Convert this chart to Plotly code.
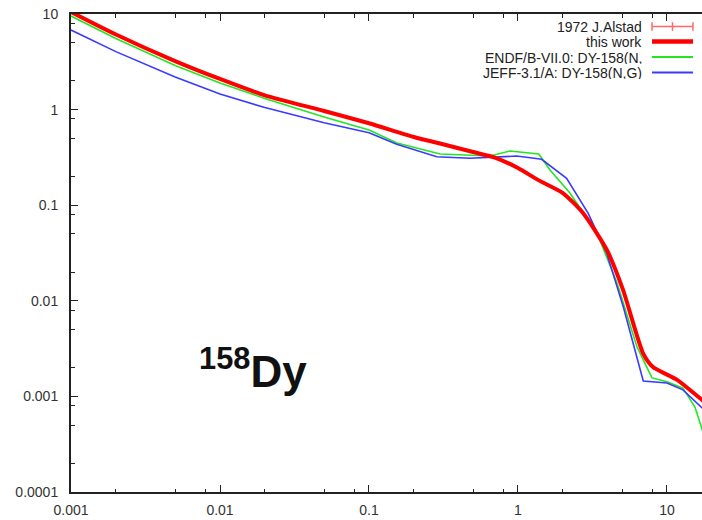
import plotly.graph_objects as go

# Neutron energy grid (MeV) and cross sections (b) for each evaluation
this_work_e = [0.001, 0.002, 0.005, 0.01, 0.02, 0.05, 0.1, 0.2, 0.3, 0.5, 0.7,
               1.0, 1.36, 2.0, 2.73, 3.95, 5.07, 6.9, 8.05, 11.7, 17.2, 20.0]
this_work_xs = [10.5, 6.1, 3.22, 2.09, 1.41, 0.967, 0.72, 0.517, 0.442, 0.36, 0.315,
                0.245, 0.184, 0.134, 0.0829, 0.034, 0.013, 0.00284, 0.00203,
                0.00149, 0.00092, 0.00078]

endf_e = [0.001, 0.002, 0.005, 0.01, 0.02, 0.05, 0.1, 0.154, 0.30, 0.649, 0.884,
          1.204, 1.38, 1.64, 2.23, 3.39, 4.62, 6.29, 7.93, 10.0, 12.8, 15.4,
          17.2, 19.0]
endf_xs = [9.53, 5.54, 2.90, 1.897, 1.306, 0.837, 0.612, 0.447, 0.343, 0.327,
           0.369, 0.351, 0.343, 0.2335, 0.134, 0.0512, 0.01536, 0.00329,
           0.00156, 0.00142, 0.00122, 0.000775, 0.000446, 0.00028]

jeff_e = [0.001, 0.002, 0.005, 0.01, 0.02, 0.05, 0.1, 0.1535, 0.285, 0.476, 0.98,
          1.442, 2.12, 2.96, 3.94, 5.09, 6.93, 10.0, 12.8, 17.2, 20.0]
jeff_xs = [6.8, 4.04, 2.19, 1.455, 1.05, 0.729, 0.573, 0.4335, 0.3216, 0.3095,
           0.327, 0.302, 0.191, 0.0823, 0.0314, 0.00868, 0.00145, 0.00138,
           0.00117, 0.000757, 0.00066]

series_names = ["1972 J.Alstad", "this work",
                "ENDF/B-VII.0: DY-158(N,", "JEFF-3.1/A: DY-158(N,G)"]

x_ticks = [0.001, 0.01, 0.1, 1, 10]
x_tick_text = ["0.001", "0.01", "0.1", "1", "10"]
x_minor = [0.002, 0.005, 0.008, 0.02, 0.05, 0.08, 0.2, 0.5, 0.8,
           2, 5, 8, 20]
y_ticks = [10, 1, 0.1, 0.01, 0.001, 0.0001]
y_tick_text = ["10", "1", "0.1", "0.01", "0.001", "0.0001"]
y_minor = [8, 5, 2, 0.8, 0.5, 0.2, 0.08, 0.05, 0.02,
           0.008, 0.005, 0.002, 0.0008, 0.0005, 0.0002]

RED = "#ff0000"
GREEN = "#22e622"
BLUE = "#3a3aff"
PINK = "#ff6a6a"
FONT = "Liberation Sans, Arial, sans-serif"

fig = go.Figure()
fig.add_trace(go.Scatter(x=endf_e, y=endf_xs, mode="lines",
                         line=dict(color=GREEN, width=1.6), name=series_names[2]))
fig.add_trace(go.Scatter(x=jeff_e, y=jeff_xs, mode="lines",
                         line=dict(color=BLUE, width=1.6), name=series_names[3]))
fig.add_trace(go.Scatter(x=this_work_e, y=this_work_xs, mode="lines",
                         line=dict(color=RED, width=4, shape="spline", smoothing=0.6),
                         name=series_names[1]))

axis_common = dict(
    type="log", showgrid=False, zeroline=False,
    showline=True, linecolor="#222", linewidth=2,
    ticks="inside", ticklen=7, tickwidth=1.3, tickcolor="#222",
    tickfont=dict(family=FONT, size=14, color="#333"),
)

fig.update_xaxes(**axis_common, range=[-3, 1.235], mirror="ticks",
                 tickmode="array", tickvals=x_ticks, ticktext=x_tick_text,
                 ticklabelstandoff=4,
                 minor=dict(tickmode="array", tickvals=x_minor, ticks="inside",
                            ticklen=3.5, tickwidth=1.2, tickcolor="#222"))
fig.update_yaxes(**axis_common, range=[-4, 1], mirror=False,
                 tickmode="array", tickvals=y_ticks, ticktext=y_tick_text,
                 ticklabelstandoff=8,
                 minor=dict(tickmode="array", tickvals=y_minor, ticks="inside",
                            ticklen=3.5, tickwidth=1.2, tickcolor="#222"))

# Legend drawn as right-aligned labels with line samples to their right
legend_rows_y = [0.9738, 0.9425, 0.9100, 0.8776]
sample_x0, sample_x1 = 0.9208, 0.9857
annotations = []
shapes = []
for name, yy in zip(series_names, legend_rows_y):
    annotations.append(dict(x=0.9065, y=yy, xref="paper", yref="paper",
                            xanchor="right", yanchor="middle", showarrow=False,
                            height=13, borderpad=0, valign="middle",
                            text=name, font=dict(family=FONT, size=14, color="#222")))

# 1972 J.Alstad sample: line with error-bar caps
shapes.append(dict(type="line", xref="paper", yref="paper",
                   x0=sample_x0, x1=sample_x1, y0=legend_rows_y[0], y1=legend_rows_y[0],
                   line=dict(color=PINK, width=1.5)))
for cx in [sample_x0, (sample_x0 + sample_x1) / 2, sample_x1]:
    shapes.append(dict(type="line", xref="paper", yref="paper",
                       x0=cx, x1=cx, y0=legend_rows_y[0] - 0.009, y1=legend_rows_y[0] + 0.009,
                       line=dict(color=PINK, width=1.5)))
for col, w, yy in [(RED, 4.5, legend_rows_y[1]), (GREEN, 2, legend_rows_y[2]),
                   (BLUE, 2, legend_rows_y[3])]:
    shapes.append(dict(type="line", xref="paper", yref="paper",
                       x0=sample_x0, x1=sample_x1, y0=yy, y1=yy,
                       line=dict(color=col, width=w)))

# Nuclide label
annotations.append(dict(x=0.1997, y=0.259, xref="paper", yref="paper",
                        xanchor="left", yanchor="middle", showarrow=False,
                        text="<b><sup>158</sup>Dy</b>",
                        font=dict(family=FONT, size=44, color="#111")))

fig.update_layout(
    width=702, height=520,
    margin=dict(l=71, r=0, t=14, b=28),
    plot_bgcolor="white", paper_bgcolor="white",
    showlegend=False,
    annotations=annotations, shapes=shapes,
)

fig.write_html("out.html")
